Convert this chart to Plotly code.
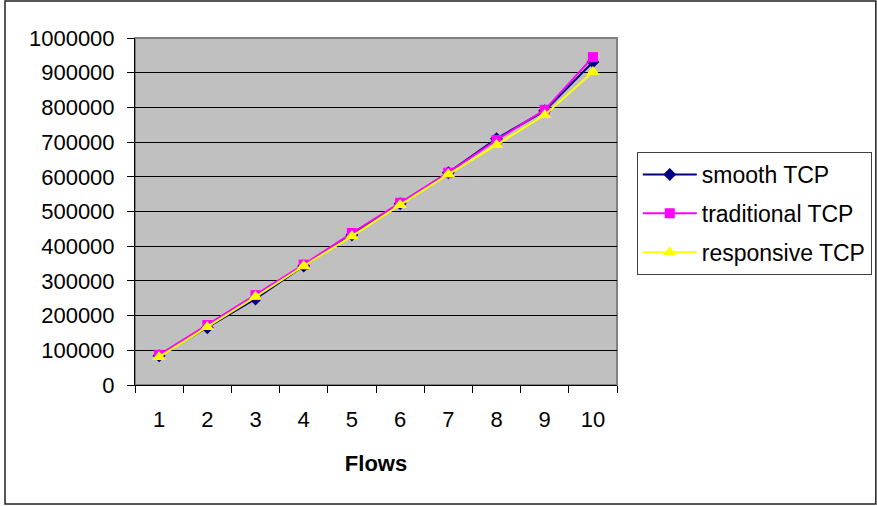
import plotly.graph_objects as go

# Throughput per number of flows for three TCP variants
flows = ["1", "2", "3", "4", "5", "6", "7", "8", "9", "10"]
smooth_tcp = [84000, 165000, 248000, 343000, 432000, 522000, 612000, 710000, 790000, 931000]
traditional_tcp = [87000, 173000, 259000, 347000, 438000, 525000, 612000, 706000, 793000, 945000]
responsive_tcp = [81000, 167000, 254000, 343000, 429000, 519000, 607000, 692000, 778000, 902000]
y_ticks = list(range(0, 1000001, 100000))

FONT = "Liberation Sans, Arial, sans-serif"

fig = go.Figure()
fig.add_trace(go.Scatter(
    x=flows, y=smooth_tcp, name="smooth TCP", mode="lines+markers",
    legendgroup="a",
    line=dict(color="#000080", width=2),
    marker=dict(symbol="diamond", size=10, color="#000080"),
))
fig.add_trace(go.Scatter(
    x=flows, y=traditional_tcp, name="traditional TCP", mode="lines+markers",
    legendgroup="b",
    line=dict(color="#FF00FF", width=2),
    marker=dict(symbol="square", size=10, color="#FF00FF"),
))
fig.add_trace(go.Scatter(
    x=flows, y=responsive_tcp, name="responsive TCP", mode="lines+markers",
    legendgroup="c",
    line=dict(color="#FFFF00", width=2),
    marker=dict(symbol="triangle-up", size=12, color="#FFFF00"),
))

fig.update_layout(
    width=877, height=506, autosize=False,
    margin=dict(l=135, r=260, t=38, b=121, autoexpand=False),
    paper_bgcolor="white", plot_bgcolor="#C0C0C0",
    font=dict(family=FONT, size=22, color="black"),
    showlegend=True,
    legend=dict(
        x=1.041, y=0.6715, xanchor="left", yanchor="top",
        bgcolor="white", bordercolor="#404040", borderwidth=1,
        font=dict(family=FONT, size=23, color="black"),
        tracegroupgap=6, traceorder="grouped", itemwidth=54,
    ),
    xaxis=dict(
        type="category", range=[-0.5, 9.5], tickson="boundaries",
        ticks="outside", ticklen=7, tickcolor="black", tickwidth=1,
        showline=True, linecolor="black", linewidth=1, showgrid=False,
        ticklabelstandoff=15,
        title=dict(text="<b>Flows</b>", font=dict(family=FONT, size=22), standoff=24),
    ),
    yaxis=dict(
        range=[0, 1000000], tickvals=y_ticks, tickformat="d",
        ticks="outside", ticklen=7, tickcolor="black", tickwidth=1,
        showline=True, linecolor="black", linewidth=1,
        showgrid=True, gridcolor="black", gridwidth=1,
        ticklabelstandoff=8, zeroline=False,
    ),
    shapes=[
        # grey frame on the plot area
        dict(type="rect", xref="paper", yref="paper", x0=0, x1=1, y0=0, y1=1,
             line=dict(color="#808080", width=2), layer="below"),
        # outer chart border
        dict(type="rect", xref="paper", yref="paper",
             x0=-0.2697, x1=1.537, y0=-0.343, y1=1.1066,
             line=dict(color="#202020", width=1.5)),
    ],
)

fig.write_html("out.html")
